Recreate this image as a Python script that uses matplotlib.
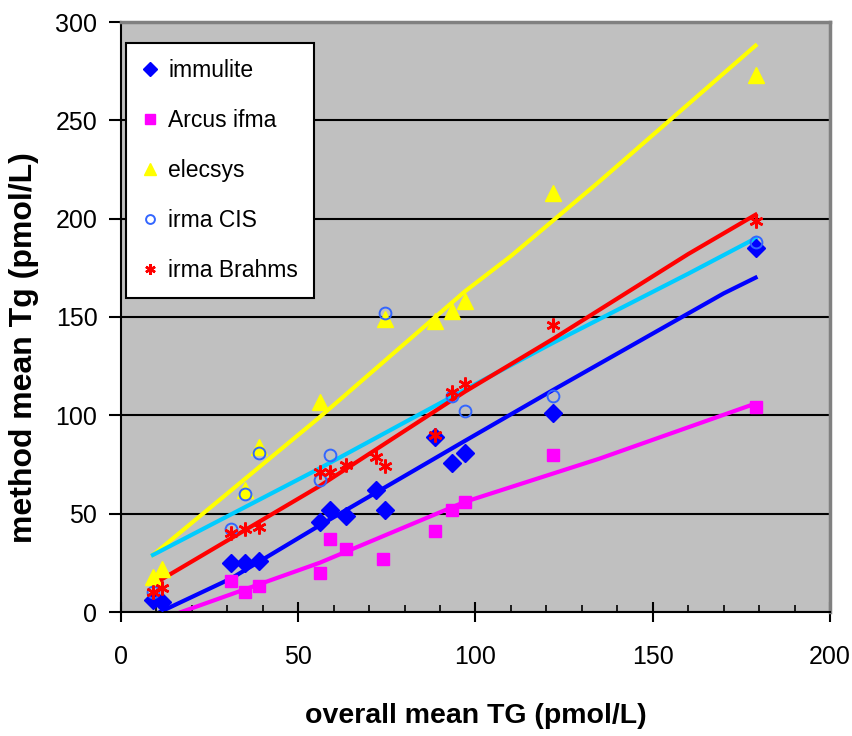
import matplotlib.pyplot as plt
from matplotlib.ticker import MultipleLocator

plt.rcParams["font.family"] = ["Liberation Sans", "DejaVu Sans"]

# overall mean Tg for each sample (x values)
imm_x = [9, 11.5, 31, 35, 39, 56, 59, 63.5, 72, 74.5, 88.5, 93.5, 97, 122, 179]
imm_y = [6, 5, 25, 25, 26, 46, 52, 49, 62, 52, 89, 76, 81, 101, 185]

arc_x = [31, 35, 39, 56, 59, 63.5, 74, 88.5, 93.5, 97, 122, 179]
arc_y = [16, 10, 13, 20, 37, 32, 27, 41, 52, 56, 80, 104]

ele_x = [9, 11.5, 35, 39, 56, 74.5, 88.5, 93.5, 97, 122, 179]
ele_y = [18, 22, 62, 84, 107, 149, 148, 153, 158, 213, 273]

cis_x = [9, 31, 35, 39, 56, 59, 74.5, 93.5, 97, 122, 179]
cis_y = [10, 42, 60, 81, 67, 80, 152, 110, 102, 110, 188]

bra_x = [9, 11.5, 31, 35, 39, 56, 59, 63.5, 72, 74.5, 88.5, 93.5, 97, 122, 179]
bra_y = [10, 12, 40, 42, 43, 71, 71, 75, 79, 74, 90, 112, 116, 146, 199]

# trend lines (vertices)
ele_line_x = [9, 56, 97, 110, 135, 179]
ele_line_y = [29, 99, 163, 181, 219, 288]
cis_line_x = [9, 56, 97, 122, 160, 179]
cis_line_y = [29, 73, 113, 137, 172, 190]
bra_line_x = [9, 56, 97, 122, 160, 179]
bra_line_y = [14, 64, 112, 139, 182, 202]
imm_line_x = [11, 31, 56, 97, 122, 170, 179]
imm_line_y = [0, 17, 44, 87, 113, 162, 170]
arc_line_x = [17, 56, 97, 135, 179]
arc_line_y = [0, 25, 56, 78, 106]

fig = plt.figure(figsize=(8.53, 7.36), dpi=100)
ax = fig.add_axes([121 / 853, 1 - 612 / 736, 709 / 853, 590 / 736])
ax.set_facecolor("#C0C0C0")

ax.plot(ele_line_x, ele_line_y, color="#FFFF00", lw=3, zorder=2)
ax.plot(cis_line_x, cis_line_y, color="#00CCFF", lw=3, zorder=2)
ax.plot(bra_line_x, bra_line_y, color="#FF0000", lw=3, zorder=2)
ax.plot(imm_line_x, imm_line_y, color="#0000FF", lw=3, zorder=2)
ax.plot(arc_line_x, arc_line_y, color="#FF00FF", lw=3, zorder=2)

ax.plot(imm_x, imm_y, "D", color="#0000FF", ms=9, ls="none", label="immulite", zorder=3)
ax.plot(arc_x, arc_y, "s", color="#FF00FF", ms=9, ls="none", label="Arcus ifma", zorder=3)
ax.plot(ele_x, ele_y, "^", color="#FFFF00", ms=12, ls="none", label="elecsys", zorder=3)
ax.plot(cis_x, cis_y, "o", mfc="none", mec="#3366FF", mew=1.4, ms=8.5, ls="none",
        label="irma CIS", zorder=3)
ax.plot(bra_x, bra_y, marker=(6, 2, 0), color="#FF0000", mew=1.8, ms=10, ls="none",
        label="irma Brahms", zorder=3)

ax.set_xlim(0, 200)
ax.set_ylim(0, 300)
ax.xaxis.set_major_locator(MultipleLocator(50))
ax.xaxis.set_minor_locator(MultipleLocator(10))
ax.yaxis.set_major_locator(MultipleLocator(50))
ax.grid(axis="y", color="black", lw=1.5, zorder=1)
ax.set_axisbelow(True)

for side in ["top", "right"]:
    ax.spines[side].set_color("#808080")
    ax.spines[side].set_linewidth(2.5)
for side in ["left", "bottom"]:
    ax.spines[side].set_linewidth(1.5)

ax.tick_params(axis="x", which="major", direction="inout", length=14, width=1.5,
               labelsize=18, pad=17)
ax.tick_params(axis="x", which="minor", direction="in", length=5, width=1.2)
ax.tick_params(axis="y", which="major", direction="out", length=9, width=1.5,
               labelsize=18, pad=8)

ax.set_xlabel("overall mean TG (pmol/L)", fontsize=20.5, fontweight="bold", labelpad=24)
ax.set_ylabel("method mean Tg (pmol/L)", fontsize=23, fontweight="bold")
ax.yaxis.set_label_coords(-0.116, 0.449)

leg = ax.legend(loc="upper left", bbox_to_anchor=(0.007, 0.964), borderaxespad=0,
                fontsize=16.5, frameon=True, fancybox=False, edgecolor="black",
                framealpha=1, handlelength=0.7, handletextpad=0.45,
                labelspacing=1.18, borderpad=0.7, markerscale=0.75)
leg.get_frame().set_linewidth(1.5)

fig.savefig("out.png", dpi=100)
